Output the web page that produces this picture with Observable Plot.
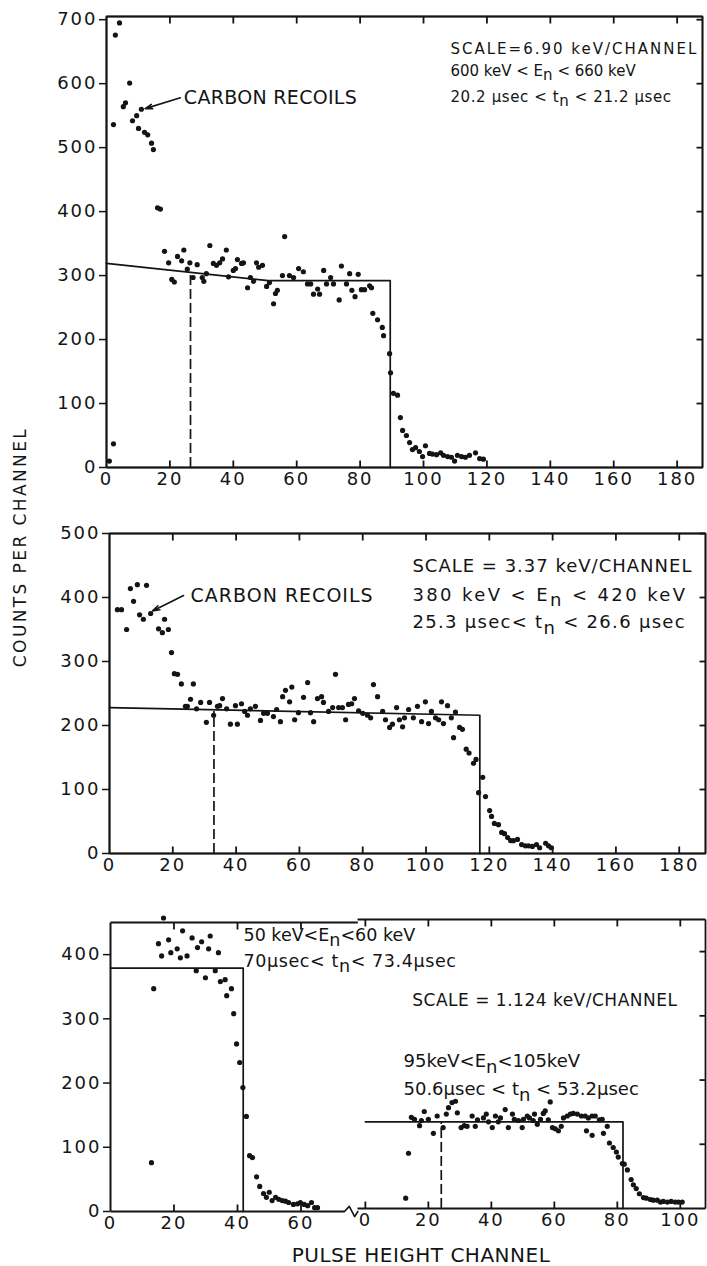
<!DOCTYPE html>
<html>
<head>
<meta charset="utf-8">
<script src="https://cdn.jsdelivr.net/npm/d3@7"></script>
<script src="https://cdn.jsdelivr.net/npm/@observablehq/plot@0.6"></script>
<style>
  html, body { margin: 0; padding: 0; background: #fff; }
  #fig { position: relative; width: 707px; height: 1266px; overflow: hidden;
         font-family: 'DejaVu Sans', sans-serif; color: #141414; }
  #fig svg { position: absolute; left: 0; }
  #fig g[aria-label="y-axis tick label"], #fig g[aria-label="x-axis tick label"] { letter-spacing: 2px; }
  .axis-title { position: absolute; text-align: center; white-space: nowrap; }
  #ytitle { left: -180px; top: 537px; width: 400px; height: 20px; line-height: 20px;
            font-size: 17px; letter-spacing: 2.4px; transform: rotate(-90deg); transform-origin: 200px 10px; }
  #xtitle { left: 221px; top: 1243px; width: 400px; height: 24px; line-height: 24px;
            font-size: 20px; letter-spacing: 0.5px; }
</style>
</head>
<body>
<div id="fig">
  <div id="ytitle" class="axis-title">COUNTS PER CHANNEL</div>
  <div id="xtitle" class="axis-title">PULSE HEIGHT CHANNEL</div>
</div>
<script>
// ---- Panel 1: 600-660 keV neutrons, 6.90 keV/channel ----
const p1Channel = [0.9, 2.2, 2.2, 2.8, 4.1, 5.3, 6.0, 7.3, 8.2, 9.5, 10.1, 11.0, 12.0, 13.0, 14.2, 14.8, 16.1, 17.0,
  18.3, 19.6, 20.6, 21.4, 22.4, 23.7, 24.4, 25.5, 26.3, 27.3, 28.6, 30.2, 30.7, 31.5, 32.6, 33.7, 34.7, 35.7, 36.6,
  37.8, 38.5, 40.0, 40.7, 41.3, 42.6, 43.2, 44.5, 45.4, 46.4, 47.3, 48.0, 49.2, 50.5, 51.4, 52.7, 53.3, 53.9, 55.5,
  56.2, 57.7, 59.0, 60.6, 62.1, 63.4, 64.4, 65.3, 66.6, 67.2, 68.5, 69.4, 70.7, 71.6, 73.4, 74.1, 75.7, 76.7, 77.4,
  78.4, 79.4, 80.4, 81.4, 83.0, 83.6, 84.0, 85.5, 87.0, 87.4, 89.3, 89.6, 90.5, 91.8, 92.7, 93.4, 94.6, 95.6, 96.5,
  97.5, 98.7, 99.7, 100.6, 101.9, 102.8, 104.1, 105.4, 106.3, 107.6, 108.8, 109.8, 110.7, 112.0, 113.2, 114.5, 116.4,
  117.7, 118.9];
const p1Counts = [10, 37, 536, 676, 695, 564, 570, 601, 542, 550, 530, 560, 524, 520, 507, 497, 406, 404,
  338, 320, 294, 290, 330, 323, 340, 310, 320, 297, 317, 297, 291, 303, 347, 319, 316, 320, 326,
  340, 298, 308, 311, 325, 319, 320, 281, 297, 291, 320, 313, 316, 283, 289, 256, 272, 277, 300,
  361, 300, 297, 311, 306, 287, 287, 271, 279, 271, 308, 287, 297, 287, 262, 315, 287, 303, 277,
  267, 302, 278, 278, 284, 281, 241, 231, 219, 206, 178, 148, 116, 113, 78, 58, 50, 39, 28,
  31, 25, 17, 34, 22, 21, 20, 23, 19, 17, 16, 10, 19, 17, 16, 19, 23,
  14, 13];
const p1FitChannel = [0, 51, 89.5, 89.5];
const p1FitCounts = [319, 292, 292, 0];
const p1Cut = {channel: 26.5, counts: 304};
const p1XTicks = [0, 20, 40, 60, 80, 100, 120, 140, 160, 180];
const p1YTicks = [0, 100, 200, 300, 400, 500, 600, 700];
const p1Notes = ["SCALE=6.90 keV/CHANNEL", "600 keV < E_n < 660 keV", "20.2 μsec < t_n < 21.2 μsec"];

// ---- Panel 2: 380-420 keV neutrons, 3.37 keV/channel ----
const p2Channel = [2.5, 3.8, 5.4, 6.6, 7.6, 8.8, 9.5, 10.7, 11.7, 13.0, 15.5, 16.7, 17.4, 18.6, 19.6, 20.5, 21.5,
  22.7, 24.0, 24.6, 25.6, 26.5, 27.5, 28.8, 30.6, 31.6, 32.9, 34.1, 34.8, 35.7, 37.0, 38.2, 39.8, 40.4, 41.7, 42.7,
  43.6, 44.5, 46.1, 47.7, 48.7, 49.9, 51.8, 52.8, 54.0, 54.7, 55.6, 56.9, 57.6, 58.5, 59.7, 61.3, 62.6, 63.5, 64.5,
  65.7, 67.0, 67.6, 69.2, 70.5, 71.4, 72.4, 73.6, 74.6, 75.5, 76.5, 77.4, 78.7, 80.0, 81.5, 82.5, 83.4, 84.7, 86.3,
  87.2, 88.5, 89.4, 90.7, 91.6, 92.6, 93.2, 94.5, 96.0, 97.3, 98.6, 99.8, 100.8, 101.7, 103.0, 104.0, 104.9, 105.5,
  106.8, 108.0, 108.7, 109.3, 110.6, 111.5, 112.7, 113.6, 115.0, 115.8, 116.6, 117.9, 118.8, 120.1, 120.7, 121.6,
  122.9, 123.9, 124.8, 125.8, 126.7, 127.6, 128.9, 130.2, 131.4, 132.4, 133.6, 134.9, 135.9, 137.8, 138.7, 139.6];
const p2Counts = [381, 381, 350, 414, 394, 420, 373, 366, 419, 375, 351, 345, 366, 350, 314, 281, 280,
  265, 230, 230, 241, 265, 226, 236, 205, 236, 216, 230, 231, 242, 226, 202, 231, 202, 234, 222,
  216, 226, 230, 208, 219, 219, 214, 225, 206, 245, 255, 237, 260, 209, 220, 244, 267, 220, 206,
  242, 245, 236, 222, 228, 280, 228, 228, 209, 233, 234, 242, 223, 219, 216, 212, 264, 245, 222,
  209, 197, 202, 228, 209, 198, 212, 225, 212, 230, 206, 237, 203, 222, 212, 209, 237, 203,
  231, 212, 181, 221, 197, 194, 163, 157, 141, 147, 95, 119, 89, 67, 58, 47,
  45, 33, 31, 25, 20, 20, 22, 14, 12, 12, 11, 14, 9, 16, 12, 9];
const p2FitChannel = [0, 117, 117];
const p2FitCounts = [228, 216, 0];
const p2Cut = {channel: 33, counts: 222};
const p2XTicks = [0, 20, 40, 60, 80, 100, 120, 140, 160, 180];
const p2YTicks = [0, 100, 200, 300, 400, 500];
const p2Notes = ["SCALE = 3.37 keV/CHANNEL", "380 keV < E_n < 420 keV", "25.3 μsec< t_n < 26.6 μsec"];

// ---- Panel 3 (left): 50-60 keV neutrons, 1.124 keV/channel ----
const p3aChannel = [12.9, 13.6, 15.1, 16.1, 16.7, 18.3, 19.0, 21.0, 22.0, 22.7, 24.1, 25.7, 27.0, 27.4, 28.7, 29.9,
  30.9, 31.4, 33.0, 34.0, 34.6, 36.1, 36.6, 38.1, 38.8, 39.7, 40.7, 41.7, 42.8, 43.8, 44.7, 46.0, 47.0, 48.2, 49.1,
  50.0, 50.9, 52.0, 53.0, 54.1, 55.1, 56.1, 57.6, 58.9, 59.8, 61.0, 62.1, 63.3, 64.3, 65.2];
const p3aCounts = [76, 347, 417, 398, 457, 423, 403, 409, 395, 437, 398, 426, 375, 411, 420, 364,
  409, 429, 375, 403, 358, 361, 336, 347, 308, 261, 232, 193, 148, 87, 84, 54, 39, 28, 22,
  30, 17, 22, 19, 17, 16, 14, 11, 12, 14, 11, 9, 14, 6, 6];
const p3aFitChannel = [0, 41.8, 41.8];
const p3aFitCounts = [379, 379, 0];
const p3aXTicks = [0, 20, 40, 60];
const p3YTicks = [0, 100, 200, 300, 400];
const p3aNotes = ["50 keV<E_n<60 keV", "70μsec< t_n< 73.4μsec"];

// ---- Panel 3 (right): 95-105 keV neutrons ----
const p3bChannel = [12.8, 13.7, 14.6, 15.6, 17.2, 17.8, 18.7, 20.0, 21.6, 22.8, 24.7, 25.7, 26.4, 27.5, 28.6, 29.2,
  30.4, 31.4, 32.3, 33.9, 34.9, 35.6, 37.5, 38.4, 39.1, 40.3, 41.3, 42.2, 42.9, 44.4, 45.4, 46.7, 47.3, 48.6, 49.8,
  50.2, 51.4, 52.1, 53.3, 53.7, 54.6, 55.6, 56.5, 57.1, 58.1, 58.7, 59.4, 60.3, 61.3, 62.2, 62.9, 64.1, 65.1, 66.0,
  67.3, 68.6, 69.8, 70.2, 70.8, 72.0, 72.0, 73.0, 74.3, 75.2, 75.6, 76.8, 77.5, 78.7, 79.7, 80.3, 81.6, 82.2, 83.2,
  84.4, 85.1, 86.0, 87.0, 88.3, 89.2, 90.5, 91.4, 92.7, 93.7, 94.6, 95.9, 97.1, 98.4, 99.4, 100.6];
const p3bCounts = [16, 86, 142, 139, 129, 137, 151, 139, 117, 144, 126, 147, 157, 165, 167, 149,
  126, 129, 128, 144, 128, 138, 141, 147, 135, 126, 144, 135, 141, 154, 126, 147, 139, 137, 126,
  139, 144, 141, 137, 147, 131, 139, 148, 152, 138, 166, 126, 124, 121, 128, 141, 144, 147, 148,
  147, 144, 144, 121, 141, 144, 114, 144, 138, 139, 117, 128, 102, 95, 88, 80, 70, 69, 60,
  45, 37, 31, 23, 17, 16, 14, 13, 13, 10, 11, 10, 11, 10, 10, 10];
const p3bFitChannel = [0, 81.8, 81.8];
const p3bFitCounts = [135, 135, 0];
const p3bCut = {channel: 24.1, counts: 135};
const p3bXTicks = [0, 20, 40, 60, 80, 100];
const p3bNotes = ["SCALE = 1.124 keV/CHANNEL", "95keV<E_n<105keV", "50.6μsec < t_n < 53.2μsec"];

const recoilLabel = "CARBON RECOILS";

// ---- drawing ----
const W = 707;
const INK = "#141414";
const FONT = "'DejaVu Sans', sans-serif";
const fig = document.getElementById("fig");

// extra tracking (px) for particular annotation lines
const tracking = new Map([
  [p1Notes[0], 2], [p1Notes[2], 0.6],
  [p2Notes[0], 1], [p2Notes[1], 2.4], [p2Notes[2], 1.3],
  [p3aNotes[1], 0.6], [p3bNotes[0], 0.5]
]);

// Letter spacing, and "E_n" -> E with a lowered n.
function finishText(svg) {
  for (const t of svg.querySelectorAll("text")) {
    const s = t.textContent;
    if (tracking.has(s)) t.setAttribute("letter-spacing", tracking.get(s));
    if (!s.includes("_")) continue;
    const parts = s.split(/_(\w)/);
    t.textContent = "";
    parts.forEach((p, i) => {
      const ts = document.createElementNS("http://www.w3.org/2000/svg", "tspan");
      ts.textContent = p;
      if (i % 2 === 1) ts.setAttribute("dy", "0.3em");
      else if (i > 0) ts.setAttribute("dy", "-0.3em");
      t.appendChild(ts);
    });
  }
}

// One straight frame piece (edge or tick) as a link mark.
function segments(list, strokeWidth) {
  return Plot.link(list, {
    x1: d => d[0], y1: d => d[1], x2: d => d[2], y2: d => d[3],
    stroke: INK, strokeWidth
  });
}

function layer(cfg, marks) {
  const svg = Plot.plot({
    width: W, height: cfg.height,
    marginTop: cfg.mt, marginBottom: cfg.mb, marginLeft: cfg.ml, marginRight: cfg.mr,
    x: {domain: cfg.xDomain, axis: null, label: null},
    y: {domain: cfg.yDomain, axis: null, label: null},
    style: {background: "transparent", fontFamily: FONT, fontSize: "17px", color: INK, overflow: "visible"},
    marks
  });
  finishText(svg);
  svg.style.top = cfg.top + "px";
  fig.appendChild(svg);
  return svg;
}

function panelPlot(cfg) {
  const innerH = cfg.height - cfg.mt - cfg.mb;
  const innerW = W - cfg.ml - cfg.mr;
  const [xLo, xHi] = cfg.xDomain;
  const yTop = cfg.yDomain[1];
  const ty = 7 * yTop / innerH;            // 7px tick, in count units
  const tx = 6 * (xHi - xLo) / innerW;     // 6px tick, in channel units

  const thin = [];
  const heavy = [];
  // top edge with downward ticks
  thin.push([cfg.topFrom ?? xLo, yTop, cfg.topTo ?? xHi, yTop]);
  for (const t of cfg.topTicks) thin.push([t, yTop, t, yTop - ty]);
  // bottom axis with upward ticks
  heavy.push([xLo, 0, xHi, 0]);
  for (const t of cfg.bottomTicks) thin.push([t, 0, t, ty]);
  if (cfg.yTicks) heavy.push([xLo, 0, xLo, yTop]);
  if (cfg.rightTicks) {
    thin.push([xHi, 0, xHi, yTop]);
    for (const t of cfg.rightTicks) thin.push([xHi, t, xHi - tx, t]);
  }

  const frame = [
    segments(heavy, 2),
    ...thin.map(s => segments([s], 1.8)),
    Plot.axisX(cfg.xLabels, {tickSize: 0, tickPadding: 5, fontSize: 18})
  ];
  if (cfg.box) frame.push(Plot.frame({stroke: INK, strokeWidth: 1.5}));
  if (cfg.yTicks) frame.push(Plot.axisY(cfg.yTicks, {tickSize: 7, tickPadding: 2, fontSize: 18, strokeWidth: 1.5}));
  layer(cfg, [...frame, ...cfg.marks]);
}

function dots(xs, ys) {
  return Plot.dot(xs, {x: xs, y: ys, r: 2.6, fill: INK, stroke: "none"});
}
function fit(xs, ys) {
  return Plot.line(xs, {x: xs, y: ys, stroke: INK, strokeWidth: 1.7});
}
function cut(c) {
  return Plot.ruleX([c.channel], {y1: 0, y2: c.counts, stroke: INK, strokeWidth: 1.7, strokeDasharray: "10,4"});
}
function note(text, x, y, size) {
  return Plot.text([text], {x, y, text: d => d, textAnchor: "start", lineAnchor: "bottom",
    fontSize: size, fill: INK});
}
function recoil(x, y, from, to, spacing) {
  tracking.set(recoilLabel, spacing);
  return [
    Plot.text([recoilLabel], {x, y, text: d => d, textAnchor: "start", lineAnchor: "middle",
      fontSize: 19, fill: INK}),
    Plot.arrow([0], {x1: from[0], y1: from[1], x2: to[0], y2: to[1],
      stroke: INK, strokeWidth: 1.6, headLength: 7, headAngle: 35})
  ];
}

// Panel 1
panelPlot({
  top: 0, height: 500, mt: 16, mb: 33, ml: 106, mr: 5, box: true,
  xDomain: [0, 188], yDomain: [0, 705],
  topTicks: p1XTicks.slice(1), bottomTicks: p1XTicks.slice(1), xLabels: p1XTicks,
  yTicks: p1YTicks, rightTicks: p1YTicks.slice(1),
  marks: [
    cut(p1Cut),
    fit(p1FitChannel, p1FitCounts),
    dots(p1Channel, p1Counts),
    ...recoil(24.4, 578, [23.3, 578], [12.2, 561], 0.3),
    note(p1Notes[0], 108.5, 647, 15),
    note(p1Notes[1], 108.5, 612, 15),
    note(p1Notes[2], 108.5, 572, 15)
  ]
});

// Panel 2
panelPlot({
  top: 520, height: 366, mt: 13, mb: 33, ml: 109, mr: 2, box: true,
  xDomain: [0, 188.3], yDomain: [0, 500],
  topTicks: p2XTicks.slice(1), bottomTicks: p2XTicks.slice(1), xLabels: p2XTicks,
  yTicks: p2YTicks, rightTicks: p2YTicks.slice(1),
  marks: [
    cut(p2Cut),
    fit(p2FitChannel, p2FitCounts),
    dots(p2Channel, p2Counts),
    ...recoil(25.6, 403, [23.4, 403], [13.6, 379], 1),
    note(p2Notes[0], 95.7, 440, 18),
    note(p2Notes[1], 95.7, 395, 18),
    note(p2Notes[2], 95.7, 352, 18)
  ]
});

// Panel 3, left segment (axis broken after channel ~74)
const breakChannel = [73.7, 75.2, 76.9, 77.9];
const breakOffset = [0, 8, -8, 0];
panelPlot({
  top: 900, height: 366, mt: 22, mb: 55, ml: 110, mr: 363,
  xDomain: [0, 73.7], yDomain: [0, 450], topTo: 77.9,
  topTicks: p3aXTicks.slice(1), bottomTicks: p3aXTicks.slice(1), xLabels: p3aXTicks,
  yTicks: p3YTicks,
  marks: [
    Plot.line(breakChannel, {x: breakChannel, y: breakOffset, stroke: INK, strokeWidth: 1.6}),
    fit(p3aFitChannel, p3aFitCounts),
    dots(p3aChannel, p3aCounts),
    note(p3aNotes[0], 41.9, 421, 17.5),
    note(p3aNotes[1], 41.9, 381, 17.5)
  ]
});

// Panel 3, right segment
panelPlot({
  top: 900, height: 366, mt: 19, mb: 58, ml: 357, mr: 2,
  xDomain: [-2.5, 108], yDomain: [0, 450],
  topTicks: p3bXTicks, bottomTicks: p3bXTicks, xLabels: p3bXTicks,
  rightTicks: p3YTicks.slice(1),
  marks: [
    cut(p3bCut),
    fit(p3bFitChannel, p3bFitCounts),
    dots(p3bChannel, p3bCounts),
    note(p3bNotes[0], 14.9, 316, 17),
    note(p3bNotes[1], 12.1, 220, 18),
    note(p3bNotes[2], 12.1, 176, 18)
  ]
});
</script>
</body>
</html>
